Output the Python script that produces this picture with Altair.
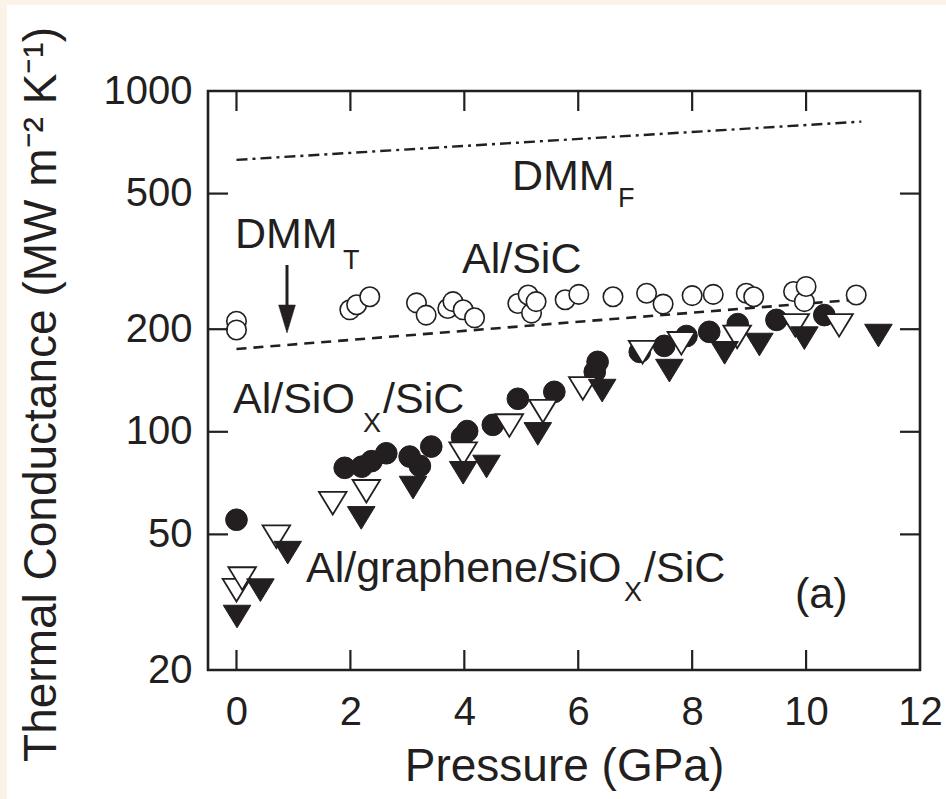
import altair as alt
import pandas as pd

FONT = "Liberation Sans"
INK = "#231f20"

# ---- data ----
sic_p = [0.0, 0.0, 1.99, 2.11, 2.34, 3.16, 3.33, 3.71, 3.80, 3.98, 4.18, 4.94, 5.12, 5.18, 5.26,
         5.77, 6.01, 6.61, 7.20, 7.49, 8.00, 8.37, 8.95, 9.08, 9.78, 9.97, 10.00, 10.88]
sic_g = [211, 199, 228, 236, 249, 239, 220, 230, 241, 228, 216, 238, 252, 223, 241,
         244, 253, 249, 255, 237, 251, 253, 255, 249, 258, 241, 267, 252]

siox_p = [0.0, 1.90, 2.20, 2.37, 2.63, 3.04, 3.22, 3.42, 3.96, 4.05, 4.50, 4.94, 5.58, 6.29, 6.34,
          7.08, 7.51, 7.90, 8.30, 8.80, 9.48, 10.32]
siox_g = [55.2, 78.4, 79.0, 82.0, 86.5, 84.6, 79.4, 90.5, 96.5, 100.5, 104.8, 125.0, 131.0, 150.0, 160.4,
          171.6, 178.7, 191.0, 196.5, 207.0, 213.0, 220.0]

gro_p = [0.0, 0.10, 0.70, 1.69, 2.28, 3.98, 4.79, 5.38, 6.08, 7.13, 7.81, 8.79, 9.81, 10.58]
gro_g = [34.3, 37.1, 49.2, 61.7, 66.9, 86.2, 104.3, 115.0, 134.0, 171.3, 181.8, 189.9, 205.3, 205.3]

grf_p = [0.01, 0.42, 0.90, 2.19, 3.10, 3.98, 4.39, 5.29, 6.42, 7.60, 8.57, 9.18, 9.97, 11.27]
grf_g = [28.7, 34.3, 44.2, 55.9, 68.6, 75.8, 79.1, 98.6, 132.1, 151.2, 170.5, 180.3, 188.3, 191.6]

dmmT_p = [0.0, 10.85]
dmmT_g = [175, 244]
dmmF_p = [0.0, 10.97]
dmmF_g = [628, 813]

x_ticks = [0, 2, 4, 6, 8, 10, 12]
y_ticks = [20, 50, 100, 200, 500, 1000]
x_inner_ticks = [0, 2, 4, 6, 8, 10]
y_inner_ticks = [50, 100, 200, 500]

# ---- layout ----
W, H = 712, 579
L, T = 208, 91

def series(p, g, name):
    return pd.DataFrame({"p": p, "g": g, "s": name})

df = pd.concat([
    series(sic_p, sic_g, "sic"),
    series(siox_p, siox_g, "siox"),
    series(gro_p, gro_g, "gro"),
    series(grf_p, grf_g, "grf"),
    series(dmmT_p, dmmT_g, "dmmT"),
    series(dmmF_p, dmmF_g, "dmmF"),
], ignore_index=True)

xs = alt.Scale(domain=[-0.5, 12], nice=False, zero=False)
ys = alt.Scale(type="log", domain=[20, 1000], nice=False)

xax = alt.Axis(values=x_ticks, title="Pressure (GPa)", ticks=False, tickSize=0, domain=False,
               grid=False, labelFontSize=40, labelPadding=22, labelFont=FONT, labelColor=INK,
               labelFlush=False, labelOverlap=False, labelBaseline="top", zindex=2,
               titleFont=FONT, titleFontSize=46, titleColor=INK, titleFontWeight="normal",
               titleX=W / 2, titleY=110, titleBaseline="alphabetic", titleAlign="center")
yax = alt.Axis(values=y_ticks, format="d", title="Thermal Conductance (MW m\u207b\u00b2 K\u207b\u00b9)",
               ticks=False, tickSize=0, domain=False, grid=False, labelFontSize=40, labelPadding=16,
               labelFont=FONT, labelColor=INK, labelFlush=False, labelOverlap=False, zindex=2,
               titleFont=FONT, titleFontSize=46, titleColor=INK, titleFontWeight="normal",
               titleAngle=270, titleX=-153, titleY=303, titleBaseline="alphabetic", titleAlign="center")

base = alt.Chart(df).encode(
    x=alt.X("p:Q", scale=xs, axis=xax),
    y=alt.Y("g:Q", scale=ys, axis=yax),
)

one = pd.DataFrame({"k": [0]})

white_bg = alt.Chart(one).mark_rect(color="white").encode(
    x=alt.value(7 - L), x2=alt.value(946 - L + 5), y=alt.value(5 - T), y2=alt.value(799 - T + 5))

dmmT = base.transform_filter(alt.datum.s == "dmmT").mark_line(
    color=INK, strokeWidth=2.6, strokeDash=[10, 7])
dmmF = base.transform_filter(alt.datum.s == "dmmF").mark_line(
    color=INK, strokeWidth=2.4, strokeDash=[11, 5, 3, 5])

siox = base.transform_filter(alt.datum.s == "siox").mark_point(
    shape="circle", filled=True, fill=INK, stroke=INK, strokeWidth=1, size=470, opacity=1)
sic = base.transform_filter(alt.datum.s == "sic").mark_point(
    shape="circle", filled=True, fill="white", stroke=INK, strokeWidth=1.6, size=380, opacity=1)

TRI = "M-1,-0.82L1,-0.82L0,0.82Z"
gro = base.transform_filter(alt.datum.s == "gro").mark_point(
    shape=TRI, filled=True, fill="white", stroke=INK, strokeWidth=1.8, size=760, opacity=1)
grf = base.transform_filter(alt.datum.s == "grf").mark_point(
    shape=TRI, filled=True, fill=INK, stroke=INK, strokeWidth=1, size=760, opacity=1)

xt = pd.DataFrame({"p": x_inner_ticks})
yt = pd.DataFrame({"g": y_inner_ticks})
TL = 20
tick_kw = dict(color=INK, strokeWidth=2.2)
bot_ticks = alt.Chart(xt).mark_rule(**tick_kw).encode(
    x=alt.X("p:Q", scale=xs, axis=xax), y=alt.value(H), y2=alt.value(H - TL))
top_ticks = alt.Chart(xt).mark_rule(**tick_kw).encode(
    x=alt.X("p:Q", scale=xs, axis=xax), y=alt.value(0), y2=alt.value(TL))
left_ticks = alt.Chart(yt).mark_rule(**tick_kw).encode(
    y=alt.Y("g:Q", scale=ys, axis=yax), x=alt.value(0), x2=alt.value(TL))
right_ticks = alt.Chart(yt).mark_rule(**tick_kw).encode(
    y=alt.Y("g:Q", scale=ys, axis=yax), x=alt.value(W), x2=alt.value(W - TL))

frame = alt.Chart(one).mark_rect(filled=False, stroke=INK, strokeWidth=2.6).encode(
    x=alt.value(0), x2=alt.value(W), y=alt.value(0), y2=alt.value(H))

# arrow pointing at the DMM_T line
arrow_x = 79
shaft = alt.Chart(one).mark_rule(color=INK, strokeWidth=3).encode(
    x=alt.value(arrow_x), y=alt.value(174), y2=alt.value(218))
head = alt.Chart(one).mark_point(shape="M-0.6,-1L0.6,-1L0,1Z", filled=True, fill=INK,
                                  stroke=INK, strokeWidth=0.5, size=784, opacity=1).encode(
    x=alt.value(arrow_x), y=alt.value(228))

def label(txt, rx, ry, size):
    return alt.Chart(one).mark_text(text=txt, align="left", baseline="alphabetic", fontSize=size,
                                    font=FONT, color=INK).encode(x=alt.value(rx), y=alt.value(ry))

MAIN, SUB = 43, 27
texts = [
    label("DMM", 304, 99, MAIN), label("F", 410, 116, SUB),
    label("DMM", 27, 157, MAIN), label("T", 135, 178, SUB),
    label("Al/SiC", 254, 182, MAIN),
    label("Al/SiO", 25, 322, MAIN), label("X", 155, 341, SUB), label("/SiC", 175, 322, MAIN),
    label("Al/graphene/SiO", 98, 491, MAIN), label("X", 416, 510, SUB), label("/SiC", 436, 491, MAIN),
    label("(a)", 587, 517, MAIN),
]

chart = alt.layer(
    white_bg, dmmT, dmmF, siox, sic, gro, grf,
    bot_ticks, top_ticks, left_ticks, right_ticks, frame, shaft, head, *texts
).properties(
    width=W, height=H,
    autosize=alt.AutoSizeParams(type="none"),
    padding={"left": L, "top": T, "right": 946 - L - W, "bottom": 799 - T - H},
    background="#fbf3e7",
).configure_view(strokeWidth=0)

chart.save("out.html", embed_options={"renderer": "svg", "actions": False})
